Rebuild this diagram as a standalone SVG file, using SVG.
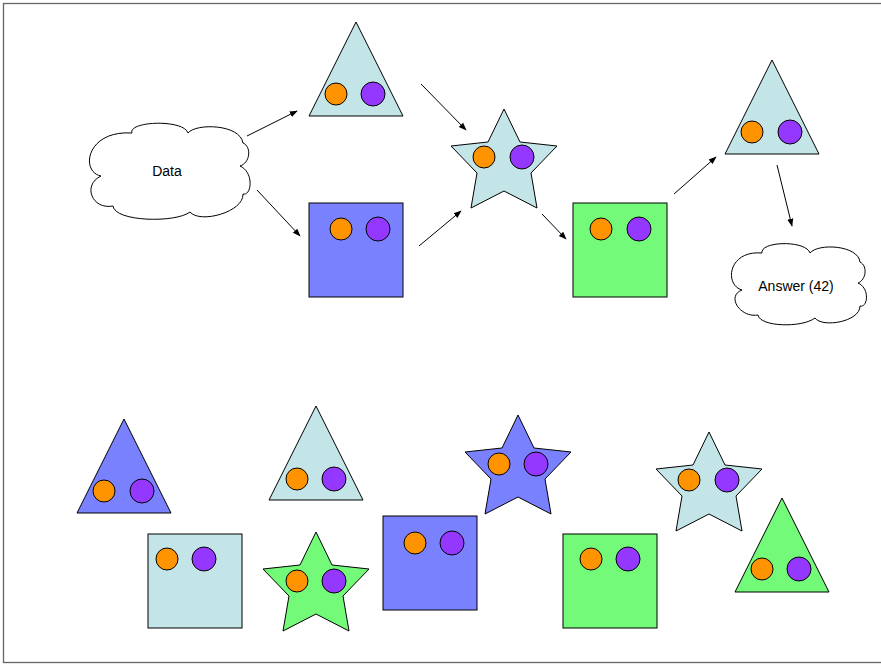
<svg xmlns="http://www.w3.org/2000/svg" width="881" height="665" viewBox="0 0 881 665">
  <style>
    .shape { stroke: #000; stroke-width: 1; }
    .lb { fill: #C4E5E8; }
    .bl { fill: #7A81FF; }
    .gr { fill: #73FA79; }
    .or { fill: #FF9300; stroke: #000; stroke-width: 1; }
    .pu { fill: #9437FF; stroke: #000; stroke-width: 1; }
    .cloud { fill: #fff; stroke: #000; stroke-width: 1; }
    .lbl { font-family: "Liberation Sans", Arial, sans-serif; font-size: 14px; fill: #000; }
    .conn line { stroke: #000; stroke-width: 1; marker-end: url(#arrow); }
  </style>
  <defs>
    <marker id="arrow" viewBox="0 0 10 10" refX="9" refY="5" markerWidth="8" markerHeight="8" markerUnits="userSpaceOnUse" orient="auto">
      <path d="M0,1.2 L10,5 L0,8.8 Z" fill="#000"/>
    </marker>
    <!-- star outline, anchored at its top point -->
    <path id="star" d="M0,0 L16,33 L53,37 L27,64 L33,99 L0,82 L-33,99 L-27,64 L-53,37 L-16,33 Z"/>
    <!-- triangle outline, anchored at its apex -->
    <path id="tri" d="M0,0 L47,94 L-47,94 Z"/>
  </defs>

  <!-- page frame -->
  <rect x="3.5" y="3.5" width="890" height="659" fill="none" stroke="#666" stroke-width="1.3"/>

  <!-- input cloud -->
  <g id="data">
    <path class="cloud" d="M132,133 C128,121 184,119 188,133 C196,123 240,124 243,143 C252,147 250,163 240,166 C254,172 252,196 243,194 C244,212 200,224 190,212 C176,223 115,222 113,206 C92,210 82,185 101,176 C80,172 86,130 132,133 Z"/>
    <text class="lbl" x="167" y="176" text-anchor="middle">Data</text>
  </g>

  <!-- pipeline -->
  <g id="tri-top">
    <use href="#tri" x="356" y="22" class="shape lb"/>
    <circle class="or" cx="336" cy="94" r="11"/>
    <circle class="pu" cx="373" cy="94" r="12"/>
  </g>
  <g id="sq-blue-top">
    <rect class="shape bl" x="309" y="203" width="94" height="94"/>
    <circle class="or" cx="341" cy="229" r="11"/>
    <circle class="pu" cx="378" cy="229" r="12"/>
  </g>
  <g id="star-mid">
    <use href="#star" x="504" y="109" class="shape lb"/>
    <circle class="or" cx="484" cy="157" r="11"/>
    <circle class="pu" cx="522" cy="157" r="12"/>
  </g>
  <g id="sq-green-top">
    <rect class="shape gr" x="573" y="203" width="94" height="94"/>
    <circle class="or" cx="601" cy="229" r="11"/>
    <circle class="pu" cx="639" cy="229" r="12"/>
  </g>
  <g id="tri-right">
    <use href="#tri" x="772" y="60" class="shape lb"/>
    <circle class="or" cx="752" cy="132" r="11"/>
    <circle class="pu" cx="790" cy="132" r="12"/>
  </g>

  <!-- output cloud -->
  <g id="answer">
    <path class="cloud" d="M762,253 C760,241 806,240 810,253 C818,243 858,245 860,262 C868,266 866,280 858,283 C870,288 868,308 860,306 C860,322 822,328 815,318 C802,328 760,327 758,315 C740,318 726,296 742,290 C724,285 728,250 762,253 Z"/>
    <text class="lbl" x="796" y="291" text-anchor="middle">Answer (42)</text>
  </g>

  <g id="connectors" class="conn">
    <line x1="247" y1="136" x2="297" y2="111"/>
    <line x1="257" y1="190" x2="300" y2="236"/>
    <line x1="421" y1="84" x2="466" y2="130"/>
    <line x1="419" y1="246" x2="461" y2="211"/>
    <line x1="542" y1="214" x2="566" y2="239"/>
    <line x1="674" y1="194" x2="716" y2="157"/>
    <line x1="777" y1="165" x2="792" y2="226"/>
  </g>

  <!-- loose shapes -->
  <g id="tri-blue-b">
    <use href="#tri" x="124" y="419" class="shape bl"/>
    <circle class="or" cx="104" cy="491" r="11"/>
    <circle class="pu" cx="142" cy="491" r="12"/>
  </g>
  <g id="sq-lb-b">
    <rect class="shape lb" x="148" y="534" width="94" height="94"/>
    <circle class="or" cx="167" cy="559" r="11"/>
    <circle class="pu" cx="204" cy="559" r="12"/>
  </g>
  <g id="tri-lb-b">
    <use href="#tri" x="316" y="406" class="shape lb"/>
    <circle class="or" cx="297" cy="479" r="11"/>
    <circle class="pu" cx="334" cy="479" r="12"/>
  </g>
  <g id="star-green-b">
    <use href="#star" x="316" y="532" class="shape gr"/>
    <circle class="or" cx="297" cy="581" r="11"/>
    <circle class="pu" cx="334" cy="581" r="12"/>
  </g>
  <g id="sq-blue-b">
    <rect class="shape bl" x="383" y="516" width="94" height="94"/>
    <circle class="or" cx="415" cy="543" r="11"/>
    <circle class="pu" cx="452" cy="543" r="12"/>
  </g>
  <g id="star-blue-b">
    <use href="#star" x="518" y="415" class="shape bl"/>
    <circle class="or" cx="499" cy="464" r="11"/>
    <circle class="pu" cx="536" cy="464" r="12"/>
  </g>
  <g id="sq-green-b">
    <rect class="shape gr" x="563" y="534" width="94" height="94"/>
    <circle class="or" cx="591" cy="559" r="11"/>
    <circle class="pu" cx="628" cy="559" r="12"/>
  </g>
  <g id="star-lb-b">
    <use href="#star" x="709" y="432" class="shape lb"/>
    <circle class="or" cx="689" cy="480" r="11"/>
    <circle class="pu" cx="727" cy="480" r="12"/>
  </g>
  <g id="tri-green-b">
    <use href="#tri" x="782" y="498" class="shape gr"/>
    <circle class="or" cx="762" cy="569" r="11"/>
    <circle class="pu" cx="799" cy="569" r="12"/>
  </g>
</svg>
